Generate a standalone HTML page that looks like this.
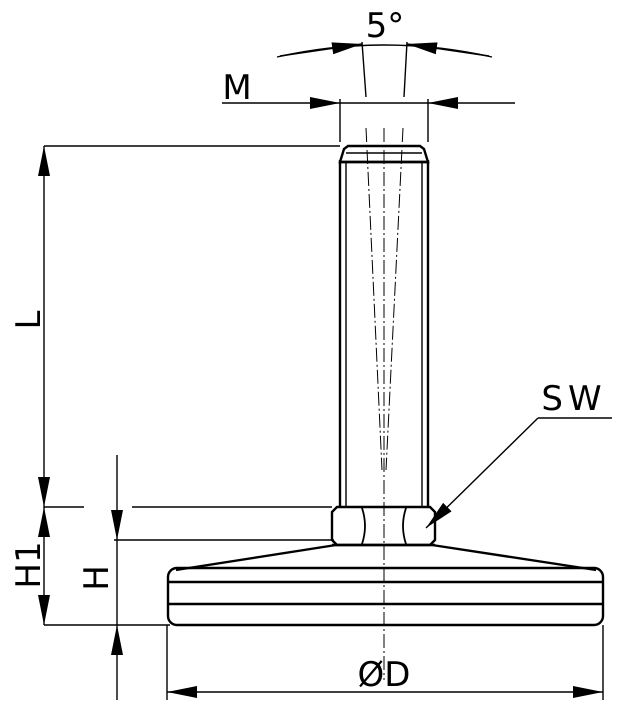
<!DOCTYPE html>
<html><head><style>
html,body{margin:0;padding:0;background:#fff;}
svg{display:block;}
text{font-family:"DejaVu Sans","Liberation Sans",sans-serif;font-weight:normal;fill:#000;}
</style></head><body>
<svg width="617" height="712" viewBox="0 0 617 712" xmlns="http://www.w3.org/2000/svg">
<defs>
<marker id="a" viewBox="0 0 30 12" refX="30" refY="6" markerWidth="30" markerHeight="12" markerUnits="userSpaceOnUse" orient="auto">
<path d="M0,0 L30,6 L0,12 Z" fill="#000"/></marker>
</defs>
<g stroke="#000" fill="none">
<g stroke-width="2.4">
<line x1="340" y1="160" x2="340" y2="507"/>
<line x1="428" y1="160" x2="428" y2="507"/>
<line x1="346" y1="162" x2="346" y2="507" stroke-width="1.4"/>
<line x1="422" y1="162" x2="422" y2="507" stroke-width="1.4"/>
<path d="M340,162 L344,149 L348,146 L420,146 L424,149 L428,162 Z"/>
<line x1="346" y1="153" x2="422" y2="153" stroke-width="1.4"/>
<line x1="340" y1="162" x2="428" y2="162"/>
<path d="M337,507 L430,507 L435,512 L435,540 L430,545 L337,545 L332,540 L332,512 Z"/>
<path d="M362,508 Q368,526 362,544 M406,508 Q400,526 406,544" stroke-width="1.8"/>
<line x1="332" y1="545" x2="435" y2="545"/>
<path d="M336,545 L176,570 M432,545 L596,570"/>
<rect x="168" y="568" width="435" height="57" rx="9"/>
<line x1="168" y1="582" x2="603" y2="582"/>
<line x1="168" y1="604" x2="603" y2="604"/>
</g>
<g stroke-width="1" stroke-dasharray="14,3,2,3">
<line x1="384" y1="128" x2="384" y2="680"/>
<line x1="366" y1="128" x2="382" y2="470"/>
<line x1="403" y1="128" x2="386" y2="470"/>
</g>
<g stroke-width="1.4">
<line x1="362" y1="42" x2="366" y2="97"/>
<line x1="407" y1="42" x2="404" y2="97"/>
<path d="M277,57 Q384,33 492,57"/>
<line x1="280" y1="56" x2="362" y2="44" marker-end="url(#a)"/>
<line x1="489" y1="56" x2="407" y2="44" marker-end="url(#a)"/>
<line x1="340" y1="99" x2="340" y2="142"/>
<line x1="428" y1="99" x2="428" y2="142"/>
<line x1="340" y1="103" x2="428" y2="103"/>
<line x1="222" y1="103" x2="340" y2="103" marker-end="url(#a)"/>
<line x1="515" y1="103" x2="428" y2="103" marker-end="url(#a)"/>
<line x1="44" y1="146" x2="340" y2="146"/>
<line x1="44" y1="507" x2="84" y2="507"/>
<line x1="132" y1="507" x2="332" y2="507"/>
<line x1="44" y1="326" x2="44" y2="146" marker-end="url(#a)"/>
<line x1="44" y1="326" x2="44" y2="507" marker-end="url(#a)"/>
<line x1="44" y1="566" x2="44" y2="507" marker-end="url(#a)"/>
<line x1="44" y1="566" x2="44" y2="625" marker-end="url(#a)"/>
<line x1="44" y1="625" x2="170" y2="625"/>
<line x1="114" y1="540" x2="334" y2="540"/>
<line x1="117" y1="455" x2="117" y2="540" marker-end="url(#a)"/>
<line x1="117" y1="540" x2="117" y2="625"/>
<line x1="117" y1="700" x2="117" y2="625" marker-end="url(#a)"/>
<line x1="167" y1="625" x2="167" y2="700"/>
<line x1="603" y1="625" x2="603" y2="700"/>
<line x1="385" y1="692" x2="167" y2="692" marker-end="url(#a)"/>
<line x1="385" y1="692" x2="603" y2="692" marker-end="url(#a)"/>
<line x1="538" y1="418" x2="612" y2="418"/>
<line x1="538" y1="418" x2="426" y2="528" marker-end="url(#a)"/>
</g>
</g>
<text x="385" y="37" font-size="34" text-anchor="middle">5°</text>
<text x="237" y="99" font-size="34" text-anchor="middle">M</text>
<text x="574" y="410" font-size="34" text-anchor="middle" letter-spacing="5">SW</text>
<text x="384" y="686" font-size="34" text-anchor="middle">ØD</text>
<text transform="translate(40,320) rotate(-90)" font-size="34" text-anchor="middle">L</text>
<text transform="translate(40,565) rotate(-90)" font-size="34" text-anchor="middle">H1</text>
<text transform="translate(108,578) rotate(-90)" font-size="34" text-anchor="middle">H</text>
</svg>
</body></html>
